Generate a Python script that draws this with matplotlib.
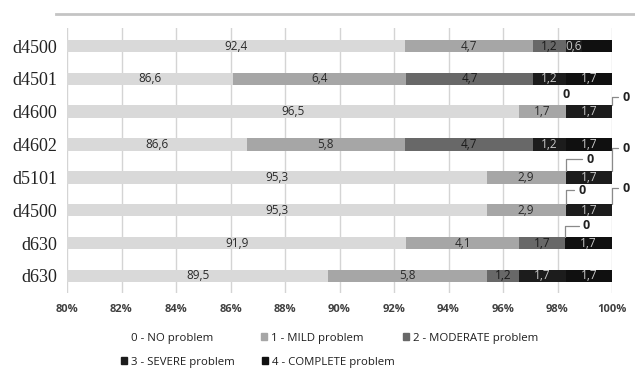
import matplotlib.pyplot as plt
import numpy as np
from matplotlib.lines import Line2D
from matplotlib.patches import Patch

rows = ['d4500', 'd4501', 'd4600', 'd4602', 'd5101', 'd4500', 'd630', 'd630']
no_problem = [92.4, 86.6, 96.5, 86.6, 95.3, 95.3, 91.9, 89.5]
mild = [4.7, 6.4, 1.7, 5.8, 2.9, 2.9, 4.1, 5.8]
moderate = [1.2, 4.7, 0, 4.7, 0, 0, 1.7, 1.2]
severe = [0.6, 1.2, 1.7, 1.2, 1.7, 1.7, 0, 1.7]
complete = [1.1, 1.7, 0, 1.7, 0, 0, 1.7, 1.7]
series_names = ['0 - NO problem', '1 - MILD problem', '2 - MODERATE problem',
                '3 - SEVERE problem', '4 - COMPLETE problem']
ticks = [80, 82, 84, 86, 88, 90, 92, 94, 96, 98, 100]

colors = ['#d9d9d9', '#a6a6a6', '#686868', '#1c1c1c', '#101010']
text_colors = ['#2a2a2a', '#2a2a2a', '#1a1a1a', '#c8c8c8', '#c8c8c8']
hidden = {(0, 4)}
# zero labels: offset in pixels from the top of the bar, and whether a leader is drawn
zero_offsets = {(2, 2): (0, 11, False), (2, 4): (14, 8, True),
                (4, 2): (24, 12, True), (4, 4): (14, 23, True),
                (5, 2): (16, 14, True), (5, 4): (14, 16, True),
                (6, 3): (21, 11, True)}
# legend entries: left edge of marker and row centre, in pixels
legend_pos = [(121, 338), (261, 338), (403, 338), (121, 362), (262, 362)]

data = np.array([no_problem, mild, moderate, severe, complete])
pct = data / data.sum(axis=0) * 100
lefts = np.vstack([np.zeros(len(rows)), np.cumsum(pct, axis=0)[:-1]])
y = np.arange(len(rows))
bar_h = 0.38

fig = plt.figure(figsize=(6.35, 3.72), dpi=100)
ax = fig.add_axes([67/635, 1-293/372, 545/635, 265/372])

for k in range(5):
    ax.barh(y, pct[k], left=lefts[k], height=bar_h, color=colors[k],
            label=series_names[k], zorder=2)

for k in range(5):
    for i in range(len(rows)):
        v = data[k, i]
        if (i, k) in hidden:
            continue
        if v > 0:
            x0 = max(lefts[k, i], 80)
            x1 = lefts[k, i] + pct[k, i]
            ax.text((x0 + x1) / 2, y[i], f'{v:.1f}'.replace('.', ','),
                    ha='center', va='center', fontsize=8.5, family='Open Sans',
                    color=text_colors[k], zorder=3)
        elif (i, k) in zero_offsets:
            dx, dy, lead = zero_offsets[(i, k)]
            arrow = dict(arrowstyle='-', color='#8a8a8a', lw=0.9, shrinkA=1, shrinkB=0,
                         connectionstyle='angle,angleA=0,angleB=90') if lead else None
            ax.annotate('0', xy=(lefts[k, i], y[i] - bar_h / 2), xytext=(dx, dy),
                        textcoords='offset pixels', ha='center', va='center',
                        fontsize=9, fontweight='bold', family='Open Sans',
                        color='#222222', arrowprops=arrow, annotation_clip=False)

ax.set_xlim(80, 100)
ax.set_ylim(7.52, -0.55)
ax.set_xticks(ticks)
ax.set_xticklabels([f'{t}%' for t in ticks], fontsize=8, fontweight='bold',
                   family='Open Sans', color='#404040')
ax.set_yticks(y)
ax.set_yticklabels(rows, fontsize=13, family='Liberation Serif', color='#222222')
ax.tick_params(axis='both', length=0)
ax.tick_params(axis='x', pad=8)
ax.tick_params(axis='y', pad=7)
ax.grid(axis='x', color='#d4d4d4', lw=1, zorder=0)
for s in ax.spines.values():
    s.set_visible(False)

fig.add_artist(Line2D([56/635, 1], [1-14/372, 1-14/372], color='#c4c4c4', lw=2))

marker_colors = ['white'] + colors[1:]
for name, c, (px, py) in zip(series_names, marker_colors, legend_pos):
    fig.legend([Patch(color=c)], [name], loc='center left',
               bbox_to_anchor=(px / 635, 1 - py / 372), frameon=False,
               handlelength=0.55, handleheight=0.55, handletextpad=0.35,
               prop={'family': 'Open Sans', 'size': 8.2}, labelcolor='#1e1e1e',
               borderaxespad=0, borderpad=0)

fig.savefig('out.png', dpi=100)
